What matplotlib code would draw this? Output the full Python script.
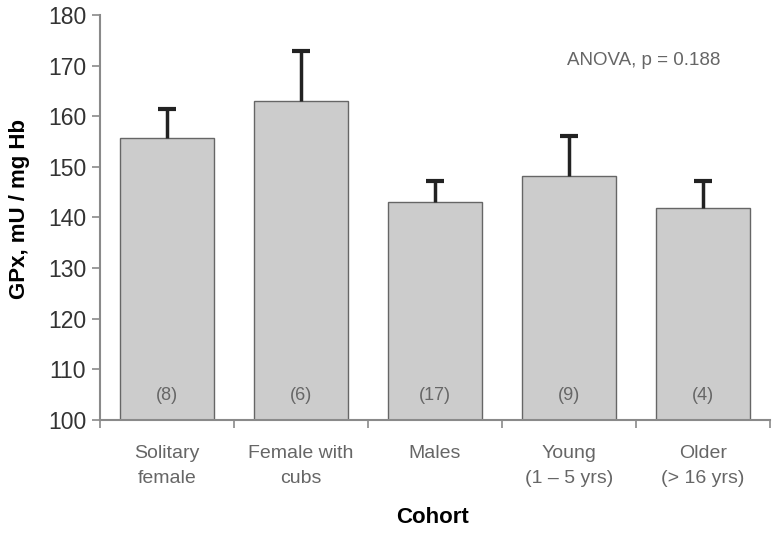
import numpy as np
import matplotlib
matplotlib.use("Agg")
import matplotlib.pyplot as plt

plt.rcParams['font.family'] = ['Liberation Sans', 'DejaVu Sans']

#%% Data
cohorts = ["Solitary\nfemale", "Female with\ncubs", "Males", "Young\n(1 \u2013 5 yrs)", "Older\n(> 16 yrs)"]
gpx_mean = [155.7, 163.0, 143.0, 148.1, 141.8]
gpx_err = [5.8, 9.8, 4.2, 7.9, 5.4]
n_counts = ["(8)", "(6)", "(17)", "(9)", "(4)"]

grey_txt = "#666666"
axis_col = "#8a8a8a"

#%% Plot
fig = plt.figure(figsize=(7.72, 5.35), dpi=100)
ax = fig.add_axes([0.1295, 0.215, 0.8675, 0.757])

x = np.arange(len(cohorts))
tops = np.array(gpx_mean) + np.array(gpx_err)
ax.bar(x, gpx_mean, width=0.7, color="#cccccc", edgecolor="#666666", linewidth=1.0, zorder=2)
# upper error bars only
ax.vlines(x, gpx_mean, tops, color="#222222", linewidth=2.5, zorder=3)
ax.plot(x, tops, ls='none', marker='_', markersize=13, markeredgewidth=3, color="#222222", zorder=3)

for xi, lab in zip(x, n_counts):
    ax.text(xi, 104.9, lab, ha='center', va='center', fontsize=13, color=grey_txt)

ax.text(3.56, 171.1, "ANOVA, p = 0.188", ha='center', va='center', fontsize=13.5, color=grey_txt)

ax.set_ylim(100, 180)
ax.set_xlim(-0.5, len(cohorts) - 0.5)
ax.set_yticks(np.arange(100, 181, 10))
ax.set_xticks(x)
ax.set_xticklabels(cohorts, fontsize=14, color=grey_txt, linespacing=1.6)
ax.set_xticks(np.arange(-0.5, len(cohorts), 1.0), minor=True)
ax.tick_params(axis='x', which='major', length=0, pad=18)
ax.tick_params(axis='x', which='minor', length=6, color=axis_col, width=1.2)
ax.tick_params(axis='y', labelsize=16.5, length=6, color=axis_col, width=1.2, labelcolor="#333333", pad=4)

for side in ['top', 'right']:
    ax.spines[side].set_visible(False)
for side in ['left', 'bottom']:
    ax.spines[side].set_color(axis_col)
    ax.spines[side].set_linewidth(1.5)

ax.set_ylabel("GPx, mU / mg Hb", fontsize=16, fontweight='bold')
ax.yaxis.set_label_coords(-0.12, 0.52)
ax.set_xlabel("Cohort", fontsize=16, fontweight='bold')
ax.xaxis.set_label_coords(0.497, -0.242)
ax.xaxis.label.set_va('center')
ax.yaxis.label.set_va('center')

fig.savefig("out.png", dpi=100)
